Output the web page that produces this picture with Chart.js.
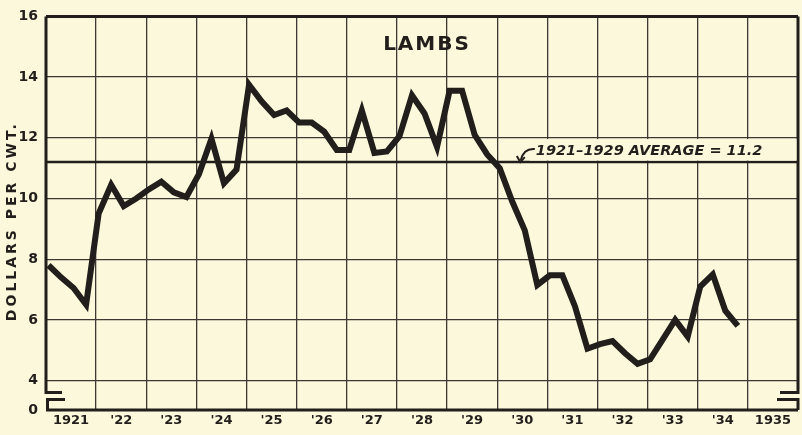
<!DOCTYPE html>
<html>
<head>
<meta charset="utf-8">
<script src="https://cdn.jsdelivr.net/npm/chart.js@4.4.1/dist/chart.umd.min.js"></script>
<style>
  html, body { margin: 0; padding: 0; background: #fbf8dc; }
</style>
</head>
<body>
<canvas id="lambChart" width="802" height="435"></canvas>
<script>
// lamb prices, dollars per cwt., one value per quarter from 1921 to late 1934
const firstYear = 1921;
const prices = [
  7.8, 7.4, 7.05, 6.5,       // 1921
  9.5, 10.45, 9.75, 10.0,    // '22
  10.3, 10.55, 10.2, 10.05,  // '23
  10.8, 11.97, 10.5, 10.95,  // '24
  13.75, 13.2, 12.75, 12.9,  // '25
  12.5, 12.5, 12.2, 11.6,    // '26
  11.6, 12.9, 11.5, 11.55,   // '27
  12.05, 13.4, 12.8, 11.7,   // '28
  13.55, 13.55, 12.1, 11.45, // '29
  11.0, 9.9, 8.95, 7.15,     // '30
  7.47, 7.47, 6.45, 5.05,    // '31
  5.2, 5.3, 4.9, 4.55,       // '32
  4.7, 5.35, 6.0, 5.45,      // '33
  7.1, 7.5, 6.3, 5.8         // '34
];
const average = 11.2;
const averageLabel = '1921\u20131929 AVERAGE = 11.2';

const yearLabels = ['1921', "'22", "'23", "'24", "'25", "'26", "'27", "'28", "'29", "'30", "'31", "'32", "'33", "'34", '1935'];
const yTicks = [4, 6, 8, 10, 12, 14, 16];
const yBase = 3.03;   // the broken axis: this value sits on the "0" line

const ink = '#221e1b';
const gridInk = '#3d3833';
const paper = '#fbf8dc';

const points = prices.map((p, i) => ({ x: firstYear + 0.05 + i / 4, y: p }));

const decor = {
  id: 'decor',
  beforeDraw(chart) {
    const c = chart.ctx;
    c.save();
    c.fillStyle = paper;
    c.fillRect(0, 0, chart.width, chart.height);
    c.restore();
  },
  beforeDatasetsDraw(chart) {
    const c = chart.ctx;
    const { left, right, top, bottom } = chart.chartArea;
    const xs = chart.scales.x, ys = chart.scales.y;
    const y4 = ys.getPixelForValue(4);
    const b1 = y4 + 12, b2 = y4 + 19;

    c.save();
    c.strokeStyle = ink;
    c.lineCap = 'butt';
    c.lineJoin = 'miter';

    // frame with the axis break
    c.lineWidth = 3;
    c.beginPath();
    c.moveTo(left, top); c.lineTo(right, top);
    c.moveTo(left, top); c.lineTo(left, b1); c.lineTo(left + 16, b1);
    c.moveTo(left + 19, b2); c.lineTo(left + 1.5, b2); c.lineTo(left + 1.5, bottom);
    c.moveTo(left, bottom); c.lineTo(right, bottom);
    c.moveTo(right, top); c.lineTo(right, b1); c.lineTo(right - 18, b1);
    c.moveTo(right - 21, b2); c.lineTo(right, b2); c.lineTo(right, bottom);
    c.stroke();

    // average line
    const ya = ys.getPixelForValue(average);
    c.lineWidth = 2.6;
    c.beginPath();
    c.moveTo(left, ya); c.lineTo(right, ya);
    c.stroke();

    // label box over the grid
    const bx = xs.getPixelForValue(1930.65);
    c.fillStyle = paper;
    c.fillRect(bx, ya - 23, right - 1.5 - bx, 21.5);
    c.fillStyle = ink;
    c.font = 'italic bold 14.5px "DejaVu Sans"';
    c.textBaseline = 'alphabetic';
    c.textAlign = 'left';
    c.fillText(averageLabel, bx + 6, ya - 7);

    // curved arrow to the average line
    c.lineWidth = 2;
    c.beginPath();
    c.moveTo(bx + 5, ya - 13);
    c.quadraticCurveTo(bx - 6, ya - 14, bx - 9, ya - 2);
    c.stroke();
    c.beginPath();
    c.moveTo(bx - 13, ya - 6); c.lineTo(bx - 9.5, ya); c.lineTo(bx - 5, ya - 5);
    c.stroke();

    // title
    c.font = 'bold 20px "DejaVu Sans"';
    c.letterSpacing = '2px';
    c.textAlign = 'center';
    c.textBaseline = 'middle';
    c.fillText('LAMBS', xs.getPixelForValue(1928.6), ys.getPixelForValue(15.05));

    // y axis title
    c.font = 'bold 14px "DejaVu Sans"';
    c.letterSpacing = '3px';
    c.translate(12, (top + bottom) / 2 + 8);
    c.rotate(-Math.PI / 2);
    c.fillText('DOLLARS PER CWT.', 0, 0);
    c.restore();
  }
};

new Chart(document.getElementById('lambChart').getContext('2d'), {
  type: 'line',
  data: {
    datasets: [{
      data: points,
      borderColor: ink,
      borderWidth: 6,
      borderJoinStyle: 'miter',
      pointRadius: 0,
      tension: 0,
      fill: false
    }]
  },
  options: {
    responsive: false,
    devicePixelRatio: 1,
    animation: false,
    layout: { padding: { top: 7, right: 4, left: 0, bottom: 0 } },
    plugins: { legend: { display: false }, tooltip: { enabled: false } },
    scales: {
      x: {
        type: 'linear',
        min: firstYear,
        max: firstYear + yearLabels.length,
        afterBuildTicks: (s) => {
          const t = [];
          for (let y = firstYear; y <= firstYear + yearLabels.length; y++) {
            t.push({ value: y });
            if (y < firstYear + yearLabels.length) t.push({ value: y + 0.5 });
          }
          s.ticks = t;
        },
        afterFit: (s) => { s.height = 25; },
        border: { display: false },
        grid: {
          drawTicks: false,
          lineWidth: 1.3,
          color: (ctx) => {
            const v = ctx.tick ? ctx.tick.value : 0;
            if (v % 1 !== 0 || v === firstYear || v === firstYear + yearLabels.length) return 'rgba(0,0,0,0)';
            return gridInk;
          }
        },
        ticks: {
          autoSkip: false,
          maxRotation: 0,
          padding: 3,
          color: ink,
          font: { family: 'DejaVu Sans', weight: 'bold', size: 13 },
          callback: (v) => (v % 1 !== 0 ? yearLabels[Math.floor(v) - firstYear] : '')
        }
      },
      y: {
        type: 'linear',
        min: yBase,
        max: 16,
        afterBuildTicks: (s) => { s.ticks = [yBase, ...yTicks].map((v) => ({ value: v })); },
        afterFit: (s) => { s.width = 46; },
        border: { display: false },
        grid: {
          drawTicks: false,
          lineWidth: 1.3,
          color: (ctx) => {
            const v = ctx.tick ? ctx.tick.value : 0;
            return (v === yBase || v === 16) ? 'rgba(0,0,0,0)' : gridInk;
          }
        },
        ticks: {
          padding: 8,
          color: ink,
          font: { family: 'DejaVu Sans', weight: 'bold', size: 14 },
          callback: (v) => (v === yBase ? '0' : String(v))
        }
      }
    }
  },
  plugins: [decor]
});
</script>
</body>
</html>
